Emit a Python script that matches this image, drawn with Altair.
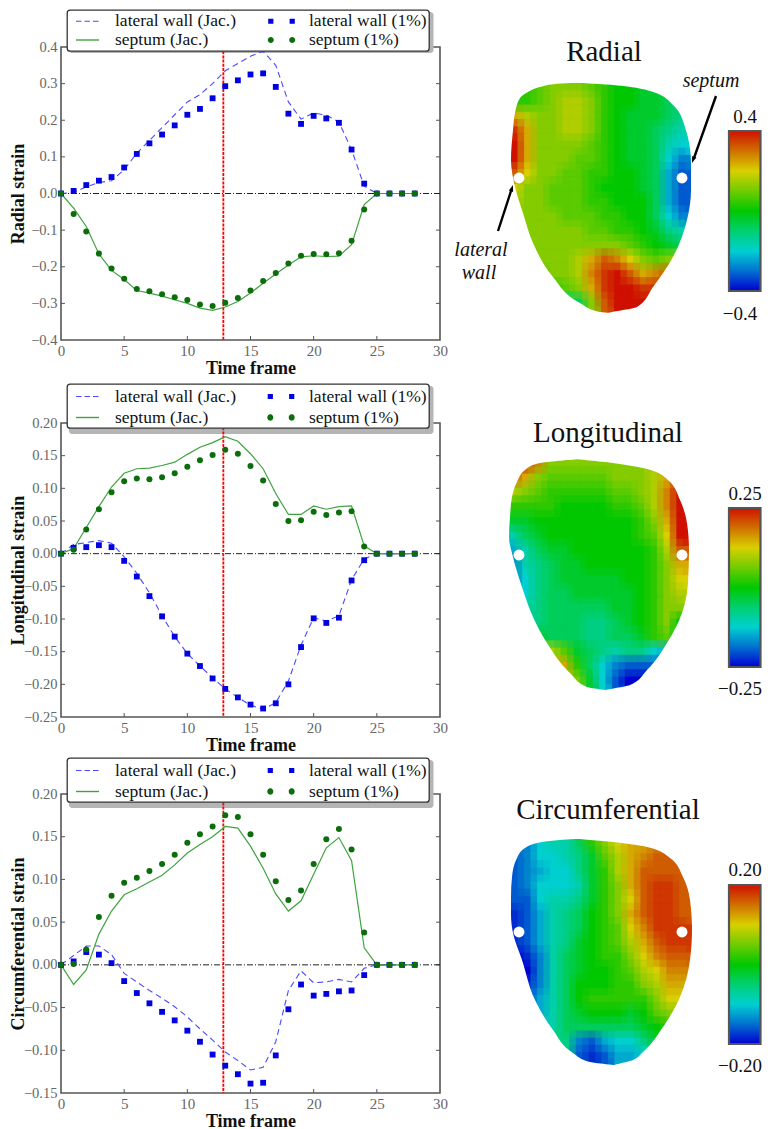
import altair as alt
import pandas as pd

FONT = "Liberation Serif"
frames = list(range(29))

rad_lat_jac = [0,.003,.018,.03,.035,.065,.11,.145,.18,.215,.25,.27,.30,.335,.355,.375,.388,.35,.25,.203,.22,.214,.195,.12,.02,0,0,0,0]
rad_sep_jac = [0,-.04,-.09,-.165,-.21,-.235,-.265,-.272,-.28,-.29,-.30,-.313,-.319,-.31,-.295,-.272,-.245,-.22,-.195,-.173,-.17,-.172,-.171,-.14,-.03,0,0,0,0]
rad_lat_pct = [0,.007,.023,.035,.045,.071,.108,.137,.161,.186,.215,.231,.26,.293,.309,.325,.328,.291,.218,.19,.212,.205,.193,.12,.027,0,0,0,0]
rad_sep_pct = [0,-.056,-.104,-.164,-.205,-.233,-.261,-.267,-.275,-.283,-.291,-.303,-.307,-.298,-.285,-.265,-.239,-.217,-.191,-.17,-.165,-.166,-.163,-.129,-.044,0,0,0,0]

lon_lat_jac = [0,.014,.017,.02,.016,-.005,-.03,-.06,-.095,-.127,-.153,-.172,-.19,-.207,-.22,-.232,-.238,-.228,-.195,-.14,-.098,-.103,-.095,-.04,-.008,0,0,0,0]
lon_sep_jac = [0,.008,.04,.072,.102,.123,.13,.131,.135,.14,.152,.163,.17,.179,.172,.153,.13,.092,.06,.06,.073,.068,.072,.073,.012,0,0,0,0]
lon_lat_pct = [0,.009,.01,.013,.01,-.011,-.035,-.065,-.096,-.127,-.153,-.172,-.191,-.207,-.22,-.231,-.237,-.229,-.2,-.143,-.099,-.106,-.098,-.041,-.01,0,0,0,0]
lon_sep_pct = [0,.006,.037,.068,.094,.111,.115,.114,.117,.123,.133,.143,.151,.159,.153,.134,.112,.076,.05,.051,.064,.059,.063,.065,.011,0,0,0,0]

cir_lat_jac = [0,.011,.022,.022,.012,-.01,-.02,-.03,-.039,-.049,-.061,-.075,-.088,-.102,-.112,-.123,-.12,-.09,-.03,-.007,-.021,-.02,-.017,-.02,-.004,0,0,0,0]
cir_sep_jac = [0,-.023,-.006,.036,.063,.082,.089,.097,.105,.117,.131,.141,.15,.162,.16,.139,.113,.083,.063,.075,.106,.137,.149,.122,.02,0,0,0,0]
cir_lat_pct = [0,.004,.015,.012,.002,-.019,-.033,-.045,-.055,-.065,-.077,-.09,-.105,-.118,-.128,-.139,-.138,-.106,-.052,-.023,-.036,-.034,-.031,-.03,-.012,0,0,0,0]
cir_sep_pct = [0,.001,.018,.056,.081,.096,.102,.11,.118,.129,.143,.153,.162,.175,.173,.153,.129,.098,.076,.087,.118,.147,.159,.135,.038,0,0,0,0]

x_ticks = [0, 5, 10, 15, 20, 25, 30]
rad_ticks = [-.4, -.3, -.2, -.1, 0, .1, .2, .3, .4]
lon_ticks = [-.25, -.2, -.15, -.1, -.05, 0, .05, .1, .15, .2]
cir_ticks = [-.15, -.1, -.05, 0, .05, .1, .15, .2]
marker_frame = [12.85]

series_names = ["lateral wall (Jac.)", "septum (Jac.)", "lateral wall (1%)", "septum (1%)"]
series_colors = ["#4a4aff", "#3fa33f", "#0000e0", "#0b6e0b"]

rad_grid = [
 [1,1,2,3,3,3,2,1,0,0,-1,-1,-1,-2],
 [1,1,2,3,4,4,3,1,0,0,-1,-1,-2,-3],
 [6,4,3,3,4,4,3,1,0,-1,-1,-1,-2,-3],
 [9,6,3,3,4,4,3,1,0,-1,-1,-2,-3,-4],
 [10,6,3,3,3,3,2,1,0,-1,-1,-2,-4,-5],
 [10,6,3,3,3,2,2,1,0,-1,-1,-2,-5,-7],
 [8,5,3,3,2,2,1,1,0,0,-1,-2,-6,-8],
 [5,3,3,2,2,2,1,0,0,0,-1,-2,-6,-8],
 [4,3,3,2,2,2,1,1,0,0,0,-2,-6,-8],
 [3,3,3,3,2,2,2,1,1,0,0,-2,-5,-7],
 [3,3,3,3,3,3,2,2,1,1,0,-1,-3,-4],
 [2,3,3,3,3,3,3,3,3,2,1,0,-1,-2],
 [2,2,3,3,3,4,6,8,7,5,3,2,3,4],
 [0,1,2,3,3,4,7,9,10,8,6,7,8,8],
 [0,0,0,1,2,3,6,9,10,10,9,9,9,8],
 [-3,-3,-3,-3,-3,-2,3,8,10,10,10,10,10,10],
]
lon_grid = [
 [8,9,7,3,3,3,3,3,3,3,3,4,6,8],
 [8,6,3,2,2,2,2,2,3,3,3,4,6,8],
 [4,3,2,1,1,1,1,1,2,2,3,4,7,10],
 [1,1,1,1,0,0,0,0,1,1,2,4,7,10],
 [-1,-1,0,0,0,0,0,0,0,0,1,3,6,10],
 [-4,-2,-1,0,0,0,0,0,0,0,1,2,5,10],
 [-6,-4,-2,-1,-1,0,0,0,0,0,0,1,4,8],
 [-7,-4,-3,-2,-1,-1,0,0,0,0,0,1,3,6],
 [-7,-5,-3,-2,-1,-1,-1,-1,-1,0,0,1,3,5],
 [-6,-5,-3,-2,-2,-1,-1,-1,-1,-1,0,1,3,4],
 [-5,-4,-3,-2,-2,-2,-2,-2,-1,-1,0,1,3,3],
 [-4,-3,-3,-2,-2,-2,-3,-3,-2,-1,0,1,3,0],
 [-1,1,-1,-2,-2,-2,-3,-3,-2,-2,-1,1,2,-1],
 [3,3,3,4,2,-1,-2,-3,-4,-3,-3,-5,-6,-6],
 [6,6,6,6,6,1,-2,-5,-7,-8,-8,-8,-8,-8],
 [6,6,6,6,6,3,-1,-5,-8,-10,-10,-10,-10,-10],
]
cir_grid = [
 [-7,-7,-5,-4,-4,-2,1,3,5,6,6,7,7,7],
 [-8,-7,-5,-5,-4,-3,-1,2,4,6,7,8,8,8],
 [-8,-7,-6,-5,-5,-3,-1,1,4,6,8,8,8,8],
 [-8,-7,-5,-5,-5,-4,-1,1,3,6,8,9,9,8],
 [-8,-8,-5,-4,-4,-3,-1,1,3,5,8,9,9,8],
 [-9,-8,-6,-4,-3,-2,0,1,3,6,8,9,9,8],
 [-9,-8,-6,-4,-3,-2,0,1,2,5,7,9,9,9],
 [-9,-8,-6,-4,-3,-1,0,1,2,4,6,8,9,9],
 [-10,-9,-7,-4,-2,-1,0,1,1,3,5,7,8,8],
 [-10,-10,-7,-4,-2,-1,0,0,1,2,4,5,7,7],
 [-10,-9,-7,-4,-2,0,0,0,1,1,3,4,6,6],
 [-9,-8,-6,-4,-2,0,1,1,1,1,1,3,5,5],
 [-8,-7,-6,-4,-2,-1,0,0,0,-1,0,2,3,3],
 [-7,-6,-5,-4,-2,-2,-2,-2,-2,-2,-1,0,1,1],
 [-6,-5,-4,-3,-3,-7,-8,-6,-5,-5,-3,-1,0,0],
 [-5,-5,-4,-3,-3,-8,-9,-8,-6,-6,-5,-3,0,0],
]

# Heart outlines (page pixels)
rad_left = [(580,83),(555,84),(540,87),(528,92),(520,98),(515,113),(513,130),(511,160),(515,187),(523,213),(533,243),(553,277),(580,303),(600,312),(613,313)]
rad_right = [(580,83),(613,85),(653,92),(673,105),(685,127),(691,163),(691,190),(687,220),(673,257),(653,287),(637,307),(613,313)]
lon_left = [(580,459),(557,461),(540,463),(525,470),(517,482),(512,497),(510,517),(509,537),(513,557),(523,590),(533,617),(547,643),(570,673),(587,687),(607,691)]
lon_right = [(580,459),(613,463),(647,469),(668,480),(680,500),(687,523),(689,550),(688,583),(682,613),(667,643),(647,670),(630,685),(607,691)]
cir_left = [(582,839),(560,840),(542,842),(525,848),(517,858),(512,877),(511,897),(511,915),(513,933),(522,960),(535,1000),(553,1030),(573,1053),(590,1062),(617,1066)]
cir_right = [(582,839),(613,842),(647,847),(670,858),(683,877),(690,900),(692,930),(690,960),(680,997),(663,1027),(643,1052),(633,1060),(617,1066)]

jet_stops = [-10, -7.5, -5, -2.5, 0, 2.5, 5, 7.5, 10]
jet_colors = ["#0000d0", "#0070d0", "#00d0d0", "#00d070", "#00c800", "#70cc00", "#d8d000", "#d07000", "#d01000"]

GREY = "#555555"
RIGHT_W, RIGHT_X = 312, (450, 762)


def legend_paths(u, sh1, sh2):
    def r(x0, x1, y0, y1, sh):
        a, b, c, d = (x0 + sh) / u, (x1 + sh) / u, y0 / u, y1 / u
        return f"M{a:.3f},{c:.3f}L{b:.3f},{c:.3f}L{b:.3f},{d:.3f}L{a:.3f},{d:.3f}Z"
    def c(x, rad, sh):
        a, q = (x + sh - rad) / u, rad / u
        return f"M{a:.3f},0A{q:.3f},{q:.3f} 0 1 1 {a+2*q:.3f},0A{q:.3f},{q:.3f} 0 1 1 {a:.3f},0Z"
    dash = "".join(r(p, p + 5.5, -.6, .6, sh1) for p in (-11.5, -3, 5.5))
    solid = r(-11.5, 11.5, -.7, .7, sh1)
    squares = r(-13.3, -8.1, -2.6, 2.6, sh2) + r(8.1, 13.3, -2.6, 2.6, sh2)
    dots = c(-10.7, 3, sh2) + c(10.7, 3, sh2)
    return [dash, solid, squares, dots]


def strain_panel(ytitle, ydomain, yticks, yfmt, h, data, legend_y, legend_u, sh1, sh2, lab, colpad, padding, rowpad):
    w = 379
    xs = alt.Scale(domain=[0, 30], nice=False, zero=False)
    ys = alt.Scale(domain=ydomain, nice=False, zero=False)
    xq = alt.X("f:Q", scale=xs, title="Time frame",
               axis=alt.Axis(values=x_ticks, format="d", ticks=False, domain=False, grid=False, labelFlush=False,
                             labelFont=FONT, labelFontSize=15, labelColor="#666666", labelPadding=3,
                             titleFont=FONT, titleFontSize=18, titleColor="#111111", titleFontWeight="bold", titlePadding=1))
    yq = alt.Y("v:Q", scale=ys, title=ytitle,
               axis=alt.Axis(values=yticks, format=yfmt, ticks=False, domain=False, grid=False, labelFlush=False,
                             labelFont=FONT, labelFontSize=14.5, labelColor="#666666", labelPadding=4,
                             titleFont=FONT, titleFontSize=18, titleColor="#111111", titleFontWeight="bold", titleX=-34))

    def df(vals):
        return pd.DataFrame({"f": frames, "v": vals})

    rule = lambda d: alt.Chart(d).mark_rule(color=GREY, strokeWidth=1)
    xt = pd.DataFrame({"f": x_ticks[1:-1]})
    yt = pd.DataFrame({"v": yticks[1:-1]})
    ticks = [
        rule(xt).encode(x=xq, y=alt.value(h), y2=alt.value(h - 4)),
        rule(xt).encode(x=xq, y=alt.value(0), y2=alt.value(4)),
        rule(yt).encode(y=yq, x=alt.value(0), x2=alt.value(4)),
        rule(yt).encode(y=yq, x=alt.value(w), x2=alt.value(w - 4)),
    ]
    zero = alt.Chart(pd.DataFrame({"v": [0]})).mark_rule(color="#222222", strokeWidth=1, strokeDash=[6, 2, 1, 2]).encode(y=yq)
    red = alt.Chart(pd.DataFrame({"f": marker_frame})).mark_rule(color="#ff0000", strokeWidth=1.8, strokeDash=[3, 1.2]).encode(x=xq)
    lat_line = alt.Chart(df(data[0])).mark_line(color=series_colors[0], strokeWidth=1.1, strokeDash=[6, 4]).encode(x=xq, y=yq)
    sep_line = alt.Chart(df(data[1])).mark_line(color=series_colors[1], strokeWidth=1.2).encode(x=xq, y=yq)
    lat_pts = alt.Chart(df(data[2])).mark_square(color=series_colors[2], size=34, opacity=1).encode(x=xq, y=yq)
    sep_pts = alt.Chart(df(data[3])).mark_circle(color=series_colors[3], size=36, opacity=1).encode(x=xq, y=yq)

    leg = alt.Legend(title=None, orient="none", legendX=6, legendY=legend_y, direction="vertical", columns=2,
                     fillColor="white", strokeColor="#333333", cornerRadius=3, padding=padding,
                     symbolSize=(2 * legend_u) ** 2, labelFont=FONT, labelFontSize=17.5, labelColor="#111111",
                     labelOffset=lab, columnPadding=colpad, rowPadding=rowpad, labelLimit=300, symbolStrokeWidth=0,
                     zindex=1)
    legend_layer = alt.Chart(pd.DataFrame({"s": series_names, "f": [None] * 4, "v": [None] * 4})).mark_point(filled=True, opacity=1).encode(
        x=xq, y=yq,
        shape=alt.Shape("s:N", scale=alt.Scale(domain=series_names, range=legend_paths(legend_u, sh1, sh2)), legend=leg),
        color=alt.Color("s:N", scale=alt.Scale(domain=series_names, range=series_colors), legend=leg),
    )
    box_h = legend_u * 4 + rowpad + 2 * padding
    shadow = alt.Chart(pd.DataFrame({"a": [0]})).mark_rect(color="#b5b5b5", cornerRadius=3).encode(
        x=alt.value(8), x2=alt.value(372.5), y=alt.value(legend_y + 2), y2=alt.value(legend_y + box_h + 2))

    return alt.layer(shadow, *ticks, zero, red, lat_line, sep_line, lat_pts, sep_pts, legend_layer).properties(width=w, height=h)


def heart_panel(title, tcy, grid, bbox, left, right, dot_y, vmin_label, vmax_label, lab_y, bar_y, ydom, h, extra=None):
    xs = alt.Scale(domain=list(RIGHT_X), nice=False, zero=False)
    ys = alt.Scale(domain=[ydom[1], ydom[0]], nice=False, zero=False)
    x0, x1, y0, y1 = bbox
    nr, nc = len(grid), len(grid[0])
    cw, ch = (x1 - x0) / nc, (y1 - y0) / nr
    cs = alt.Scale(domain=jet_stops, range=jet_colors, interpolate="rgb")
    cells = []
    for dx, dy, op in ((0, 0, 1), (cw / 2, ch / 2, 1 / 2), (cw / 2, 0, 1 / 3), (0, ch / 2, 1 / 4)):
        rows = []
        for j, row_ in enumerate(grid):
            for i, val in enumerate(row_):
                rows.append({"x": x0 + i * cw - dx, "x2": x0 + (i + 1) * cw - dx + .5,
                             "y": y0 + j * ch - dy, "y2": y0 + (j + 1) * ch - dy + .5, "val": val})
        cells.append(alt.Chart(pd.DataFrame(rows)).mark_rect(opacity=op).encode(
            x=alt.X("x:Q", scale=xs, axis=None), x2="x2:Q",
            y=alt.Y("y:Q", scale=ys, axis=None), y2="y2:Q",
            color=alt.Color("val:Q", scale=cs, legend=None)))
    X = alt.X("x:Q", scale=xs, axis=None)
    Y = alt.Y("y:Q", scale=ys, axis=None)

    def mask(pts, edge, lap):
        top, bot = pts[0], pts[-1]
        p = [(top[0] + lap, top[1] - 22), (top[0] + lap, top[1] - 1)] + pts[1:-1] + [(bot[0] + lap, bot[1] + 1), (bot[0] + lap, bot[1] + 22)]
        d = pd.DataFrame({"x": [a for a, b in p], "y": [b for a, b in p], "e": [edge] * len(p)})
        return alt.Chart(d).mark_area(fill="#ffffff", orient="horizontal", interpolate="monotone", opacity=1).encode(
            y=Y, x=alt.X("x:Q", scale=xs, axis=None, stack=None), x2="e:Q")

    masks = [mask(left, x0 - 25, 6), mask(right, x1 + 25, -6)]
    dots = alt.Chart(pd.DataFrame({"x": [519, 682], "y": [dot_y, dot_y]})).mark_circle(color="white", size=120, opacity=1).encode(x=X, y=Y)
    ttl = alt.Chart(pd.DataFrame({"x": [title[1]], "y": [tcy], "t": [title[0]]})).mark_text(
        font=FONT, fontSize=29, color="#111111").encode(x=X, y=Y, text="t:N")
    bar = alt.Chart(pd.DataFrame({"x": [729], "x2": [760.5], "y": [bar_y[0]], "y2": [bar_y[1]]})).mark_rect(
        fill=alt.Gradient(gradient="linear", x1=0, x2=0, y1=1, y2=0,
                          stops=[alt.GradientStop(offset=(s + 10) / 20, color=c) for s, c in zip(jet_stops, jet_colors)]),
        stroke="#555555", strokeWidth=2.2).encode(x=X, x2="x2:Q", y=Y, y2="y2:Q")
    labs = alt.Chart(pd.DataFrame({"x": [745, 740], "y": lab_y, "t": [vmax_label, vmin_label]})).mark_text(
        font=FONT, fontSize=19, color="#111111").encode(x=X, y=Y, text="t:N")
    layers = cells + masks + [dots, ttl, bar, labs] + (extra(X, Y) if extra else [])
    return alt.layer(*layers).properties(width=RIGHT_W, height=h, view=alt.ViewConfig(stroke=None))


def annotations(X, Y):
    shafts = []
    for (a, b), (c, d) in (((716, 96), (694, 158)), ((498, 231), (511, 191))):
        shafts.append(alt.Chart(pd.DataFrame({"x": [a, c], "y": [b, d], "o": [0, 1]})).mark_line(color="black", strokeWidth=2.4).encode(x=X, y=Y, order="o:Q"))
    head = "M0,0L-.75,2.2L.75,2.2Z"
    heads = [alt.Chart(pd.DataFrame({"x": [px], "y": [py]})).mark_point(shape=head, filled=True, color="black", size=36, angle=ang, opacity=1).encode(x=X, y=Y)
             for px, py, ang in ((692, 163, 200), (513, 185, 18))]
    labels = alt.Chart(pd.DataFrame({"x": [711, 481, 479], "y": [81, 250, 273], "t": ["septum", "lateral", "wall"]})).mark_text(
        font=FONT, fontSize=20, fontStyle="italic", color="#111111").encode(x=X, y=Y, text="t:N")
    return shafts + heads + [labels]


l1 = strain_panel("Radial strain", [-.4, .4], rad_ticks, ".1f", 293, [rad_lat_jac, rad_sep_jac, rad_lat_pct, rad_sep_pct], -37, 9, 9.5, 9.5, 28, 27, 2, 1)
h1 = heart_panel(("Radial", 604), 52, rad_grid, (511, 691, 83, 313), rad_left, rad_right, 178, "\u22120.4", "0.4", [117, 314], (131, 291), (47, 346), 299, annotations)
l2 = strain_panel("Longitudinal strain", [-.25, .2], lon_ticks, ".2f", 294, [lon_lat_jac, lon_sep_jac, lon_lat_pct, lon_sep_pct], -39, 10.5, 8, 7.5, 25, 27, 2, 2)
h2 = heart_panel(("Longitudinal", 608), 433, lon_grid, (509, 689, 459, 691), lon_left, lon_right, 555, "\u22120.25", "0.25", [494, 689], (508, 667), (423, 717), 294)
l3 = strain_panel("Circumferential strain", [-.15, .2], cir_ticks, ".2f", 299, [cir_lat_jac, cir_sep_jac, cir_lat_pct, cir_sep_pct], -36, 10.5, 8, 7.5, 25, 27, 2, 2)
h3 = heart_panel(("Circumferential", 608), 810, cir_grid, (511, 692, 839, 1066), cir_left, cir_right, 932, "\u22120.20", "0.20", [870, 1066], (885, 1044), (794, 1093), 299)

chart = (
    alt.concat(l1, h1, l2, h2, l3, h3, columns=2, spacing={"row": 77, "column": 10})
    .resolve_scale(color="independent", shape="independent")
    .resolve_legend(color="independent", shape="independent")
    .properties(padding={"left": 0, "top": 0, "right": 0, "bottom": 0}, bounds="flush", align="each")
    .configure_view(stroke=GREY, strokeWidth=1.6)
    .configure_legend(strokeWidth=1.3)
)

chart.save("out.html", embed_options={"renderer": "svg", "actions": False})
